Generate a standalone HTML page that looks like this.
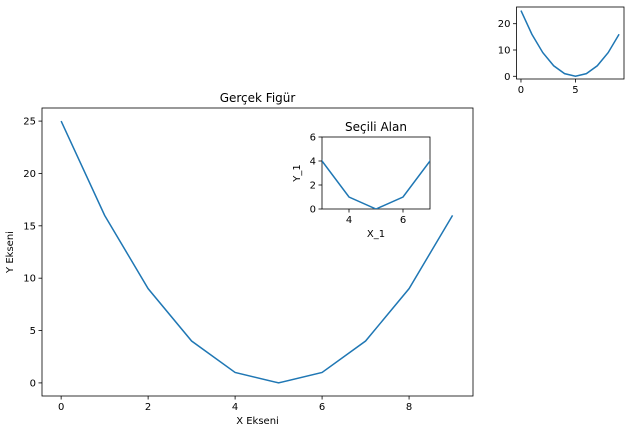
<!DOCTYPE html>
<html><head><meta charset="utf-8"><style>
body{margin:0;background:#fff;}
svg text{font-family:"DejaVu Sans","Liberation Sans",sans-serif;font-size:10px;fill:#000;}
</style></head><body>
<svg id="c" width="631" height="434" xmlns="http://www.w3.org/2000/svg"></svg>
<script>
const xs=[0,1,2,3,4,5,6,7,8,9];
const ys=[25,16,9,4,1,0,1,4,9,16];
const mainXTicks=[0,2,4,6,8];
const mainYTicks=[0,5,10,15,20,25];
const smallXTicks=[0,5];
const smallYTicks=[0,10,20];
const insetXTicks=[4,6];
const insetYTicks=[0,2,4,6];
const svg=document.getElementById('c');
const NS='http://www.w3.org/2000/svg';
function mk(t,a,p){const e=document.createElementNS(NS,t);for(const k in a)e.setAttribute(k,a[k]);(p||svg).appendChild(e);return e;}
function axes(o){
  const g=mk('g',{});
  
  
  const sx=v=>o.x0+(v-o.xmin)/(o.xmax-o.xmin)*(o.x1-o.x0);
  const sy=v=>o.y1-(v-o.ymin)/(o.ymax-o.ymin)*(o.y1-o.y0);
  mk('rect',{x:o.x0,y:o.y0,width:o.x1-o.x0,height:o.y1-o.y0,fill:'#fff',stroke:'#000','stroke-width':0.8},g);
  const clip='cl'+o.name;
  const cp=mk('clipPath',{id:clip},g);mk('rect',{x:o.x0,y:o.y0,width:o.x1-o.x0,height:o.y1-o.y0},cp);
  let d='';xs.forEach((x,i)=>{d+=(i?'L':'M')+sx(x).toFixed(2)+','+sy(ys[i]).toFixed(2);});
  const p=mk('path',{d:d,fill:'none',stroke:'#1f77b4','stroke-width':1.5,'clip-path':'url(#'+clip+')'},g);
  
  
  o.xt.forEach(v=>{const X=sx(v);mk('line',{x1:X,x2:X,y1:o.y1,y2:o.y1+3.5,stroke:'#000','stroke-width':0.8},g);
    const t=mk('text',{x:X,y:o.y1+14,'text-anchor':'middle'},g);t.textContent=v;
    
    });
  o.yt.forEach(v=>{const Y=sy(v);mk('line',{x1:o.x0-3.5,x2:o.x0,y1:Y,y2:Y,stroke:'#000','stroke-width':0.8},g);
    const t=mk('text',{x:o.x0-6,y:Y+3.5,'text-anchor':'end'},g);t.textContent=v;
    
    });
  if(o.title){const t=mk('text',{x:(o.x0+o.x1)/2,y:o.y0-6,'text-anchor':'middle',style:'font-size:12px'},g);t.textContent=o.title;
    
    }
  if(o.xl){const t=mk('text',{x:(o.x0+o.x1)/2,y:o.y1+28,'text-anchor':'middle'},g);t.textContent=o.xl;
    
    }
  if(o.yl){const t=mk('text',{x:0,y:0,'text-anchor':'middle',transform:'translate('+o.ylx+','+((o.y0+o.y1)/2)+') rotate(-90)'},g);t.textContent=o.yl;
    
    }
}
axes({name:'main-axes',x0:42,x1:473,y0:108,y1:396,xmin:-0.44,xmax:9.47,ymin:-1.25,ymax:26.25,xt:mainXTicks,yt:mainYTicks,title:'Gerçek Figür',xl:'X Ekseni',yl:'Y Ekseni',ylx:13});
axes({name:'overview-axes',x0:516.5,x1:624,y0:7,y1:79,xmin:-0.41,xmax:9.45,ymin:-1.03,ymax:26.35,xt:smallXTicks,yt:smallYTicks});
axes({name:'inset-axes',x0:322,x1:430,y0:137,y1:209,xmin:3,xmax:7,ymin:0,ymax:6,xt:insetXTicks,yt:insetYTicks,title:'Seçili Alan',xl:'X_1',yl:'Y_1',ylx:300});
</script>
</body></html>
